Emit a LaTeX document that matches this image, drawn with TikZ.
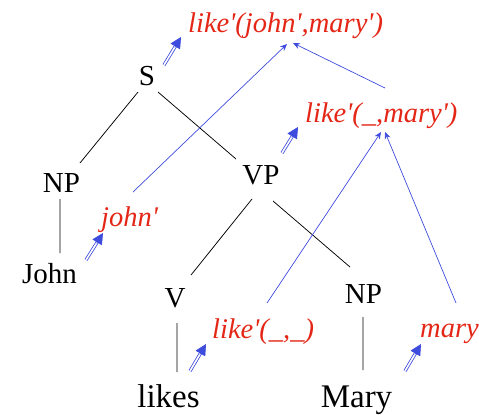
\documentclass[tikz,border=0pt]{standalone}
\usepackage{fontspec}
\setmainfont{Liberation Serif}
\usetikzlibrary{arrows.meta,calc}
\definecolor{semblue}{RGB}{62,76,222}
\definecolor{semred}{RGB}{228,38,22}
\newcommand{\ap}{\textquotesingle}
\tikzset{
  syn/.style={inner sep=0pt, anchor=base, font=\fontsize{29bp}{33bp}\selectfont},
  word/.style={inner sep=0pt, anchor=base, font=\fontsize{33bp}{37bp}\selectfont},
  sem/.style={inner sep=0pt, anchor=base west, text=semred, font=\fontsize{28.5bp}{33bp}\selectfont\itshape},
  tree/.style={draw=black, line width=0.75bp},
  comp/.style={draw=semblue, line width=0.7bp, -{Stealth[length=7bp,width=6bp]}},
  dshaft/.style={draw=semblue, line width=0.8bp, double distance=1.6bp, shorten >=9bp},
  dtip/.style={draw=semblue, fill=semblue, line width=0.6bp, -{Triangle[length=11bp,width=11bp]}}
}
\newcommand{\dblarrow}[2]{%
  \draw[dshaft] #1 -- #2;
  \draw[dtip] ($#2!12bp!#1$) -- #2;}
\begin{document}
\begin{tikzpicture}[x=1bp,y=-1bp]
\useasboundingbox (0,0) rectangle (479,414);
% syntactic tree
\node[syn] (S) at (147,85) {S};
\node[syn] (NPa) at (61.5,192) {NP};
\node[syn] (John) at (49.5,283) {John};
\node[syn] (VP) at (261,184) {VP};
\node[syn] (V) at (175,307) {V};
\node[syn] (NPb) at (363.5,303) {NP};
\node[word] (likes) at (168.5,407) {likes};
\node[word] (Mary) at (356.5,407) {Mary};
% semantic labels
\node[sem] (like1) at (188,32) {like\ap(john\ap,mary\ap)};
\node[sem] (like2) at (305,122) {like\ap(\_,mary\ap)};
\node[sem] (john) at (101,226) {john\ap};
\node[sem] (like3) at (212,338) {like\ap(\_,\_)};
\node[sem] (mary) at (420,337) {mary\ap};
% tree connectors
\draw[tree] ([shift={(-9,7)}]S.base) -- ([shift={(18.5,-29)}]NPa.base);
\draw[tree] ([shift={(11,7)}]S.base) -- ([shift={(-25,-25)}]VP.base);
\draw[tree] ([shift={(-1.5,7)}]NPa.base) -- ([shift={(10.5,-30)}]John.base);
\draw[tree] ([shift={(-9,15)}]VP.base) -- ([shift={(16,-32)}]V.base);
\draw[tree] ([shift={(12,17)}]VP.base) -- ([shift={(-13.5,-36)}]NPb.base);
\draw[tree] ([shift={(2,16)}]V.base) -- ([shift={(8.5,-35)}]likes.base);
\draw[tree] ([shift={(-0.5,14)}]NPb.base) -- ([shift={(6.5,-37)}]Mary.base);
% composition arrows
\draw[comp] ([shift={(32,-34)}]john.base west) -- ([shift={(99,12)}]like1.base west);
\draw[comp] ([shift={(80,-34)}]like2.base west) -- ([shift={(105,11)}]like1.base west);
\draw[comp] ([shift={(55,-35)}]like3.base west) -- ([shift={(76,10)}]like2.base west);
\draw[comp] ([shift={(36,-34)}]mary.base west) -- ([shift={(80,10)}]like2.base west);
% interpretation arrows
\dblarrow{(164,65)}{(181,37)}
\dblarrow{(282,153)}{(298,127)}
\dblarrow{(86,260)}{(103,233)}
\dblarrow{(190,371)}{(206,344)}
\dblarrow{(405,371)}{(421,344)}
\end{tikzpicture}
\end{document}
